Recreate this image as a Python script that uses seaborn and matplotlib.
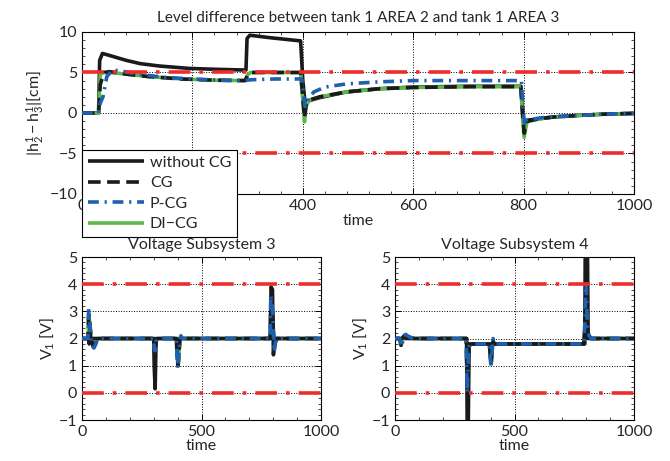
import matplotlib
matplotlib.use('Agg')
import matplotlib.pyplot as plt
from matplotlib.ticker import AutoMinorLocator
import seaborn as sns

# --- top panel: level difference |h2 - h3| ---
lvl_t_wo = [0, 30, 32, 37, 45, 60, 80, 105, 140, 195, 240, 297, 299, 304, 340, 396,
            400, 404, 410, 431, 479, 539, 600, 700, 795, 798, 801, 806, 830, 853, 900, 943, 1000]
lvl_wo = [0, 0, 6.5, 7.35, 7.2, 6.9, 6.5, 6.1, 5.8, 5.5, 5.4, 5.3, 9.2, 9.6, 9.3, 8.9,
          4.0, 1.3, 1.5, 1.9, 2.6, 3.0, 3.2, 3.3, 3.3, 0.5, -2.1, -0.9, -0.7, -0.5, -0.3, -0.15, -0.05]

lvl_t_cg = [0, 30, 33, 40, 50, 80, 120, 180, 240, 295, 300, 305, 396, 400, 403, 406, 412,
            431, 479, 539, 600, 700, 795, 798, 801, 806, 830, 853, 900, 943, 1000]
lvl_cg = [0, 0, 3.5, 5.0, 5.1, 4.8, 4.5, 4.2, 4.05, 4.0, 4.6, 5.0, 5.0, 2.0, -0.6, 1.0, 1.6,
          2.0, 2.6, 3.0, 3.15, 3.25, 3.25, 0.0, -2.5, -1.0, -0.7, -0.5, -0.3, -0.15, -0.05]
lvl_dicg = [0, 0, 4.8, 5.0, 5.0, 4.8, 4.5, 4.2, 4.05, 4.0, 4.7, 5.0, 5.0, 1.5, -1.1, 0.9, 1.6,
            2.0, 2.6, 3.0, 3.15, 3.25, 3.25, -0.5, -3.0, -1.1, -0.7, -0.5, -0.3, -0.15, -0.05]

lvl_t_pcg = [0, 30, 33, 38, 45, 55, 70, 100, 150, 200, 250, 295, 305, 350, 398, 401, 404,
             410, 420, 440, 480, 540, 600, 700, 796, 799, 802, 806, 830, 853, 900, 943, 1000]
lvl_pcg = [0, 0, 1.2, 2.0, 4.5, 5.3, 5.2, 4.8, 4.4, 4.2, 4.05, 4.0, 4.1, 4.2, 4.2, 2.5, 0.8,
           1.8, 2.6, 3.2, 3.6, 3.85, 4.0, 4.0, 4.0, 0.5, -1.6, -0.9, -0.6, -0.45, -0.3, -0.15, -0.05]

# --- bottom left: voltage subsystem 3 ---
v3_t_wo = [0, 28, 30, 33, 38, 45, 300, 302, 306, 310, 395, 398, 403, 408,
           788, 791, 797, 801, 806, 1000]
v3_wo = [2, 2, 1.8, 2.2, 1.9, 2.0, 2.0, 1.0, 0.15, 2.0, 2.0, 1.6, 1.9, 2.0,
         2.0, 3.9, 3.8, 1.4, 2.0, 2.0]
v3_t_pcg = [0, 25, 28, 33, 38, 45, 50, 58, 65, 300, 302, 306, 310, 318, 395, 398, 402,
            406, 410, 414, 420, 788, 790, 795, 800, 804, 808, 815, 1000]
v3_pcg = [2, 2, 3.1, 2.6, 2.0, 1.7, 1.65, 1.8, 2.0, 2.0, 1.6, 1.55, 1.9, 2.0, 2.0, 1.2, 0.9,
          1.5, 2.0, 2.1, 2.0, 2.0, 3.6, 3.3, 2.5, 1.5, 1.8, 2.0, 2.0]
v3_cg = [2, 2, 2.9, 2.5, 2.0, 1.75, 1.7, 1.85, 2.0, 2.0, 1.7, 1.65, 1.9, 2.0, 2.0, 1.3, 1.0,
         1.5, 2.0, 2.05, 2.0, 2.0, 3.4, 3.2, 2.5, 1.6, 1.85, 2.0, 2.0]

# --- bottom right: voltage subsystem 4 ---
v4_t_wo = [0, 30, 38, 45, 300, 302, 306, 310, 790, 794, 796, 805, 808, 1000]
v4_wo = [2, 2, 2.1, 2.0, 2.0, -1.5, -1.5, 1.8, 1.8, 1.8, 5.5, 5.5, 2.0, 2.0]
v4_t_pcg = [0, 20, 25, 30, 35, 45, 60, 80, 298, 300, 302, 305, 310, 320, 395, 398, 402,
            406, 410, 416, 790, 794, 797, 800, 803, 806, 812, 820, 1000]
v4_pcg = [2, 2, 1.7, 1.8, 2.1, 2.15, 2.05, 2.0, 2.0, 0.8, 0.0, 1.0, 1.7, 1.8, 1.8, 1.3, 0.95,
          1.5, 2.0, 1.8, 1.8, 2.5, 3.5, 4.0, 3.0, 2.3, 2.1, 2.0, 2.0]
v4_cg = [2, 2, 1.75, 1.85, 2.05, 2.1, 2.05, 2.0, 2.0, 1.0, 0.3, 1.1, 1.7, 1.8, 1.8, 1.4, 1.05,
         1.5, 1.9, 1.8, 1.8, 2.4, 3.3, 3.7, 2.9, 2.3, 2.1, 2.0, 2.0]

labels = ['without CG', 'CG', 'P-CG', 'DI\u2212CG']

sns.set_style('ticks')
plt.rcParams['font.family'] = ['Lato', 'DejaVu Sans']
plt.rcParams['mathtext.fontset'] = 'custom'
plt.rcParams['mathtext.rm'] = 'Lato'
plt.rcParams['mathtext.it'] = 'Lato'

BLACK = '#1a1a1a'
BLUE = '#1f5fb0'
GREEN = '#5cb84a'
RED = '#ee2c2c'
LW = 2.6

fig = plt.figure(figsize=(6.7, 4.61), dpi=100)
ax_top = fig.add_axes([0.1224, 0.5792, 0.8239, 0.3514])
ax_v3 = fig.add_axes([0.1224, 0.0889, 0.3567, 0.3536])
ax_v4 = fig.add_axes([0.5896, 0.0889, 0.3567, 0.3536])


def draw(ax, x, y, color, dashes, label=None, lw=LW, z=2):
    sns.lineplot(x=x, y=y, ax=ax, color=color, lw=lw, estimator=None,
                 sort=False, label=label, legend=False, zorder=z)
    line = ax.get_lines()[-1]
    if dashes is not None:
        line.set_dashes(dashes)
    line.set_solid_capstyle('butt')
    return line


def style(ax, ylim, yticks, xticks):
    ax.set_xlim(0, 1000)
    ax.set_ylim(*ylim)
    ax.set_xticks(xticks)
    ax.set_yticks(yticks)
    ax.xaxis.set_minor_locator(AutoMinorLocator(5))
    ax.yaxis.set_minor_locator(AutoMinorLocator(5))
    ax.grid(True, which='major', linestyle=':', color='k', lw=0.7)
    ax.tick_params(direction='in', top=True, right=True, length=4,
                   labelsize=11.5, width=0.7, color='k')
    ax.tick_params(which='minor', direction='in', top=True, right=True,
                   length=2, width=0.5, color='k')
    for s in ax.spines.values():
        s.set_color('k')
        s.set_linewidth(0.8)


# top panel
h1 = draw(ax_top, lvl_t_wo, lvl_wo, BLACK, None, labels[0], z=3)
h4 = draw(ax_top, lvl_t_cg, lvl_dicg, GREEN, None, labels[3], z=4)
h2 = draw(ax_top, lvl_t_cg, lvl_cg, BLACK, (3.5, 1.8), labels[1], z=5)
h3 = draw(ax_top, lvl_t_pcg, lvl_pcg, BLUE, (3, 1.6, 0.6, 1.6), labels[2], z=6)
for lim in [5, -5]:
    ax_top.axhline(lim, color=RED, lw=LW, dashes=(6, 2.5, 1, 2.5), zorder=7)
style(ax_top, (-10, 10), [-10, -5, 0, 5, 10], [0, 200, 400, 600, 800, 1000])
ax_top.set_title('Level difference between tank 1 AREA 2 and tank 1 AREA 3', fontsize=11, pad=7)
ax_top.set_xlabel('time', fontsize=11.5, labelpad=1)
ax_top.set_ylabel(r'$|\mathrm{h}_2^1-\mathrm{h}_3^1|$[cm]', fontsize=11.5, labelpad=2)
leg = ax_top.legend([h1, h2, h3, h4], labels, loc='upper left', bbox_to_anchor=(0, 0.272),
                    fontsize=11.5, handlelength=3.5, frameon=True, fancybox=False,
                    framealpha=1, edgecolor='k', borderpad=0.35, labelspacing=0.4,
                    handletextpad=0.4, borderaxespad=0)
leg.get_frame().set_linewidth(0.8)
leg.set_zorder(20)
ax_top.set_zorder(5)

# bottom panels
for ax, tw, vw, tp, vp, vc, title in [
        (ax_v3, v3_t_wo, v3_wo, v3_t_pcg, v3_pcg, v3_cg, 'Voltage Subsystem 3'),
        (ax_v4, v4_t_wo, v4_wo, v4_t_pcg, v4_pcg, v4_cg, 'Voltage Subsystem 4')]:
    draw(ax, tp, vc, GREEN, None, z=2)
    draw(ax, tw, vw, BLACK, None, z=3)
    draw(ax, tp, vc, BLACK, (3.5, 1.8), z=4)
    draw(ax, tp, vp, BLUE, (3, 1.6, 0.6, 1.6), z=5)
    for lim in [4, 0]:
        ax.axhline(lim, color=RED, lw=LW, dashes=(6, 2.5, 1, 2.5), zorder=7)
    style(ax, (-1, 5), [-1, 0, 1, 2, 3, 4, 5], [0, 500, 1000])
    ax.set_title(title, fontsize=11.5, pad=6)
    ax.set_xlabel('time', fontsize=11.5, labelpad=0)
    ax.set_ylabel(r'V$_1$ [V]', fontsize=11.5, labelpad=2)

fig.savefig('out.png', dpi=100)
